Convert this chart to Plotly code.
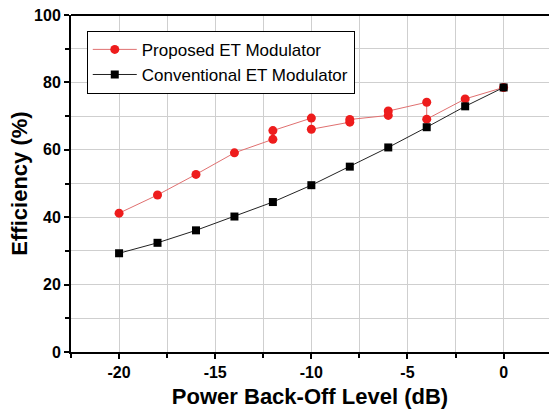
import plotly.graph_objects as go

# Data
prop_x = [-20, -18, -16, -14, -12, -12, -10, -10, -8, -8, -6, -6, -4, -4, -2, 0]
prop_y = [41.2, 46.6, 52.7, 59.1, 63.1, 65.7, 69.4, 66.1, 68.2, 69.0, 70.2, 71.5, 74.1, 69.1, 75.1, 78.5]

conv_x = [-20, -18, -16, -14, -12, -10, -8, -6, -4, -2, 0]
conv_y = [29.3, 32.4, 36.1, 40.2, 44.5, 49.5, 55.0, 60.7, 66.7, 72.9, 78.5]

x_ticks = [-20, -15, -10, -5, 0]
y_ticks = [0, 20, 40, 60, 80, 100]

FONT = "Liberation Sans, Arial, sans-serif"

fig = go.Figure()
fig.add_trace(go.Scatter(
    x=prop_x, y=prop_y, mode="lines+markers", name="Proposed ET Modulator",
    line=dict(color="#e07070", width=1),
    marker=dict(symbol="circle", size=9, color="#ee1c1c"),
))
fig.add_trace(go.Scatter(
    x=conv_x, y=conv_y, mode="lines+markers", name="Conventional ET Modulator",
    line=dict(color="#222222", width=1),
    marker=dict(symbol="square", size=8, color="black"),
))

fig.update_layout(
    width=549, height=413,
    margin=dict(l=71, r=0, t=15, b=61),
    paper_bgcolor="white", plot_bgcolor="white",
    font=dict(family=FONT, color="black"),
    showlegend=True,
    legend=dict(
        x=0.033, y=0.953, xanchor="left", yanchor="top",
        bgcolor="white", bordercolor="black", borderwidth=1,
        font=dict(size=17, family=FONT, color="black"),
        tracegroupgap=0, itemwidth=44,
    ),
    xaxis=dict(
        range=[-22.5, 2.36],
        tickmode="array", tickvals=x_ticks, ticktext=[str(v) for v in x_ticks],
        ticks="outside", ticklen=5, tickwidth=1.5, tickcolor="black",
        tickfont=dict(size=16, family=FONT, color="black", weight="bold"),
        showline=True, linecolor="black", linewidth=2, mirror=False,
        showgrid=True, gridcolor="#cfcfcf", gridwidth=1,
        minor=dict(dtick=2.5, tick0=0, ticks="outside", ticklen=4, tickcolor="black",
                   showgrid=True, gridcolor="#cfcfcf", gridwidth=1),
        zeroline=False,
        title=dict(text="Power Back-Off Level (dB)",
                   font=dict(size=22, family=FONT, color="black", weight="bold"),
                   standoff=8),
    ),
    yaxis=dict(
        range=[0, 100],
        tickmode="array", tickvals=y_ticks, ticktext=[str(v) for v in y_ticks],
        ticks="outside", ticklen=5, tickwidth=1.5, tickcolor="black",
        tickfont=dict(size=16, family=FONT, color="black", weight="bold"),
        showline=True, linecolor="black", linewidth=2, mirror=False,
        showgrid=True, gridcolor="#cfcfcf", gridwidth=1,
        minor=dict(dtick=10, tick0=0, ticks="outside", ticklen=4, tickcolor="black",
                   showgrid=True, gridcolor="#cfcfcf", gridwidth=1),
        zeroline=False,
        title=dict(text="Efficiency (%)",
                   font=dict(size=22, family=FONT, color="black", weight="bold"),
                   standoff=0),
    ),
)

# top border line
fig.add_shape(type="line", xref="paper", yref="paper", x0=0, x1=1, y0=1, y1=1,
              line=dict(color="black", width=2))

fig.write_html("out.html")
